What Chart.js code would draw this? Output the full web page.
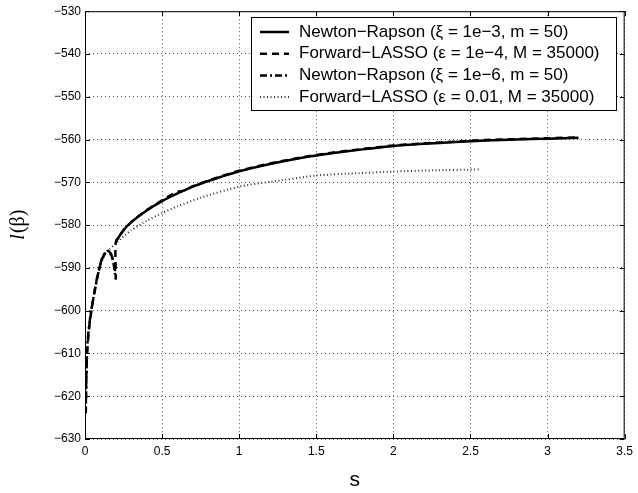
<!DOCTYPE html>
<html>
<head>
<meta charset="utf-8">
<script src="https://cdn.jsdelivr.net/npm/chart.js@4/dist/chart.umd.min.js"></script>
<style>
  html, body { margin: 0; padding: 0; background: #fff; }
  #wrap { width: 638px; height: 493px; position: relative; }
</style>
</head>
<body>
<div id="wrap"><canvas id="grafico"></canvas></div>
<script>
// Valores (s, l(beta))
const seriesLabels = [
  'Newton\u2212Rapson (\u03be = 1e\u22123, m = 50)',
  'Forward\u2212LASSO (\u03b5 = 1e\u22124, M = 35000)',
  'Newton\u2212Rapson (\u03be = 1e\u22126, m = 50)',
  'Forward\u2212LASSO (\u03b5 = 0.01, M = 35000)'
];

const sNR3 = [0.2, 0.25, 0.3, 0.4, 0.5, 0.6, 0.7, 0.8, 0.9, 1.0, 1.2, 1.4, 1.6, 1.8, 2.0, 2.2, 2.4, 2.6, 2.8, 3.0, 3.2];
const lNR3 = [-583.8, -581.2, -579.3, -576.6, -574.4, -572.6, -571.0, -569.7, -568.5, -567.4, -565.7, -564.3, -563.2, -562.3, -561.5, -561.0, -560.6, -560.2, -560.0, -559.8, -559.6];

const sFL4 = [0.004, 0.008, 0.015, 0.03, 0.05, 0.08, 0.11, 0.14, 0.17, 0.19, 0.2, 0.2, 0.25, 0.3, 0.4, 0.5, 0.55, 0.6, 0.65, 0.7, 0.8, 0.9, 1.0, 1.2, 1.4, 1.6, 1.8, 2.0, 2.2, 2.4, 2.6, 2.8, 3.0, 3.2];
const lFL4 = [-624, -616, -609, -603, -598, -592, -588, -586.2, -587, -589, -592.5, -584, -581.2, -579.3, -576.5, -574.2, -573.1, -572.2, -571.9, -570.9, -569.6, -568.4, -567.3, -565.6, -564.2, -563.1, -562.2, -561.4, -560.9, -560.5, -560.1, -559.9, -559.7, -559.5];

const sNR6 = [0.005, 0.01, 0.015, 0.025, 0.04, 0.055, 0.07, 0.09, 0.11, 0.13, 0.15, 0.17, 0.185, 0.195, 0.2];
const lNR6 = [-624, -614, -608, -604, -600, -597, -594, -590.5, -587.8, -586.5, -586, -586.8, -589, -591.5, -592.5];

const sFL01 = [0.02, 0.04, 0.07, 0.1, 0.13, 0.16, 0.2, 0.25, 0.3, 0.4, 0.5, 0.6, 0.75, 1.0, 1.2, 1.5, 1.75, 2.0, 2.25, 2.56];
const lFL01 = [-606, -600, -594, -589.5, -586.8, -585.6, -584.3, -582.6, -581.2, -579.0, -577.2, -575.6, -573.6, -571.0, -569.9, -568.4, -567.9, -567.5, -567.2, -567.0];

const xTicks = [0, 0.5, 1, 1.5, 2, 2.5, 3, 3.5];
const yTicks = [-630, -620, -610, -600, -590, -580, -570, -560, -550, -540, -530];

const estilos = [
  { width: 2.5, dash: [], cor: '#000' },
  { width: 2.5, dash: [7, 5], cor: '#000' },
  { width: 2.5, dash: [7, 3, 2, 3], cor: '#000' },
  { width: 2, dash: [1, 2.5], cor: '#333' }
];

function pontos(xs, ys) { return xs.map((x, i) => ({ x: x, y: ys[i] })); }
const menos = v => String(v).replace('-', '\u2212');

Chart.defaults.font.family = '"Liberation Sans", Arial, sans-serif';
Chart.defaults.color = '#000';

const series = [pontos(sNR3, lNR3), pontos(sFL4, lFL4), pontos(sNR6, lNR6), pontos(sFL01, lFL01)];

// Moldura, marcas internas, títulos dos eixos e legenda no estilo MATLAB
const estiloMatlab = {
  id: 'estiloMatlab',
  afterDraw(chart) {
    const ctx = chart.ctx, a = chart.chartArea;
    const xs = chart.scales.x, ys = chart.scales.y;
    ctx.save();
    ctx.strokeStyle = '#000';
    ctx.lineWidth = 1;
    ctx.setLineDash([]);
    ctx.strokeRect(a.left + 0.5, a.top + 0.5, a.right - a.left - 1, a.bottom - a.top - 1);
    ctx.beginPath();
    xTicks.forEach(v => {
      const px = Math.round(xs.getPixelForValue(v)) + 0.5;
      ctx.moveTo(px, a.bottom); ctx.lineTo(px, a.bottom - 5);
      ctx.moveTo(px, a.top); ctx.lineTo(px, a.top + 5);
    });
    yTicks.forEach(v => {
      const py = Math.round(ys.getPixelForValue(v)) + 0.5;
      ctx.moveTo(a.left, py); ctx.lineTo(a.left + 5, py);
      ctx.moveTo(a.right, py); ctx.lineTo(a.right - 5, py);
    });
    ctx.stroke();

    // título x
    ctx.fillStyle = '#000';
    ctx.font = '21px "Liberation Sans", Arial, sans-serif';
    ctx.textAlign = 'center';
    ctx.textBaseline = 'middle';
    ctx.fillText('s', (a.left + a.right) / 2, 480);

    // título y: l itálico + (β)
    ctx.save();
    ctx.translate(19, (a.top + a.bottom) / 2);
    ctx.rotate(-Math.PI / 2);
    ctx.textAlign = 'left';
    ctx.font = 'italic 20px "Liberation Serif", "DejaVu Serif", serif';
    const w1 = ctx.measureText('l').width;
    ctx.font = '20px "Liberation Serif", "DejaVu Serif", serif';
    const w2 = ctx.measureText('(\u03b2)').width;
    const x0 = -(w1 + w2) / 2;
    ctx.font = 'italic 20px "Liberation Serif", "DejaVu Serif", serif';
    ctx.fillText('l', x0, 0);
    ctx.font = '20px "Liberation Serif", "DejaVu Serif", serif';
    ctx.fillText('(\u03b2)', x0 + w1 + 1, 0);
    ctx.restore();

    // legenda
    const lx = 251, ly = 17, lw = 365, lh = 93;
    ctx.fillStyle = '#fff';
    ctx.fillRect(lx, ly, lw, lh);
    ctx.strokeStyle = '#000';
    ctx.lineWidth = 1;
    ctx.strokeRect(lx + 0.5, ly + 0.5, lw, lh);
    ctx.font = '17px "Liberation Sans", Arial, sans-serif';
    ctx.textAlign = 'left';
    ctx.textBaseline = 'middle';
    seriesLabels.forEach((txt, i) => {
      const y = ly + 15 + i * 21.7;
      ctx.beginPath();
      ctx.strokeStyle = estilos[i].cor;
      ctx.lineWidth = estilos[i].width;
      ctx.setLineDash(estilos[i].dash);
      ctx.moveTo(260, y); ctx.lineTo(289, y);
      ctx.stroke();
      ctx.setLineDash([]);
      ctx.fillStyle = '#000';
      ctx.fillText(txt, 299, y);
    });
    ctx.restore();
  }
};

new Chart(document.getElementById('grafico'), {
  type: 'scatter',
  data: {
    datasets: series.map((dados, i) => ({
      label: seriesLabels[i],
      data: dados,
      showLine: true,
      borderColor: estilos[i].cor,
      backgroundColor: estilos[i].cor,
      borderWidth: estilos[i].width,
      borderDash: estilos[i].dash,
      pointRadius: 0,
      tension: 0.2,
      fill: false
    }))
  },
  options: {
    responsive: true,
    maintainAspectRatio: false,
    animation: false,
    layout: { padding: { left: 0, right: 8, top: 9, bottom: 0 } },
    plugins: { legend: { display: false }, tooltip: { enabled: false } },
    scales: {
      x: {
        type: 'linear', min: 0, max: 3.5,
        afterBuildTicks: s => { s.ticks = xTicks.map(v => ({ value: v })); },
        afterFit: s => { s.height = 54; },
        border: { display: false, dash: [1, 3] },
        grid: { color: '#555', lineWidth: 1, drawTicks: false },
        ticks: { font: { size: 12 }, padding: 5, maxRotation: 0, callback: v => menos(v) }
      },
      y: {
        type: 'linear', min: -630, max: -530,
        afterBuildTicks: s => { s.ticks = yTicks.map(v => ({ value: v })); },
        afterFit: s => { s.width = 85; },
        border: { display: false, dash: [1, 3] },
        grid: { color: '#555', lineWidth: 1, drawTicks: false },
        ticks: { font: { size: 12 }, padding: 4, callback: v => menos(v) }
      }
    }
  },
  plugins: [estiloMatlab]
});
</script>
</body>
</html>
